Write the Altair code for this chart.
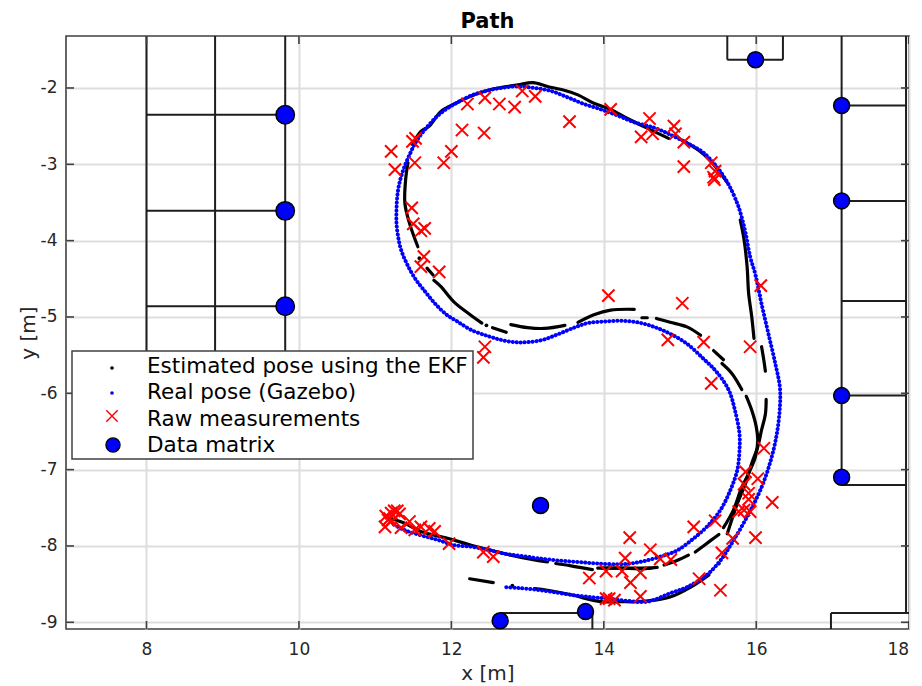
import altair as alt
import pandas as pd

FONT = "DejaVu Sans"
X_DOMAIN = [6.944, 18.004]
Y_DOMAIN = [-9.088, -1.319]
x_ticks = [8, 10, 12, 14, 16, 18]
y_ticks = [-2, -3, -4, -5, -6, -7, -8, -9]

# Real pose (Gazebo)
blue_x = [12.72,12.87,13.09,13.31,13.57,13.83,14.05,14.31,14.57,14.87,15.09,15.35,15.53,15.70,15.90,16.07,16.19,16.27,16.31,16.31,16.25,16.16,16.07,15.99,15.92,15.86,15.80,
          15.75,15.64,15.51,15.31,15.09,14.87,14.66,14.40,14.18,13.96,13.74,13.52,13.31,13.09,12.85,12.65,12.45,12.26,12.06,11.86,11.69,11.54,11.44,11.37,11.32,11.29,11.28,11.28,11.30,11.34,11.41,11.52,11.65,11.80,11.95,12.08,12.26,12.48,12.65,12.83,13.00,13.20,13.39,13.61,13.79,14.00,14.22,14.44,14.66,14.87,15.09,15.31,15.48,15.64,15.72,15.78,15.78,15.75,15.66,15.53,15.35,15.18,14.96,14.74,14.52,14.35,14.18,13.92,13.66,13.39,13.13,12.91,12.69,12.48,12.26,12.04,11.82,11.60,11.38,11.21]
blue_y = [-8.54,-8.55,-8.57,-8.60,-8.64,-8.67,-8.69,-8.72,-8.73,-8.62,-8.54,-8.38,-8.19,-7.93,-7.58,-7.23,-6.88,-6.53,-6.18,-5.92,-5.61,-5.22,-4.83,-4.45,-4.21,-3.90,-3.66,
          -3.51,-3.27,-3.07,-2.85,-2.72,-2.61,-2.52,-2.45,-2.36,-2.28,-2.21,-2.12,-2.04,-2.00,-1.98,-2.00,-2.04,-2.10,-2.20,-2.33,-2.50,-2.70,-2.90,-3.07,-3.24,-3.42,-3.59,-3.77,-3.94,-4.12,-4.29,-4.49,-4.66,-4.84,-4.98,-5.06,-5.17,-5.25,-5.30,-5.33,-5.33,-5.30,-5.23,-5.14,-5.08,-5.06,-5.05,-5.07,-5.13,-5.22,-5.35,-5.55,-5.72,-5.96,-6.22,-6.53,-6.75,-7.01,-7.27,-7.53,-7.75,-7.90,-8.06,-8.14,-8.20,-8.23,-8.24,-8.23,-8.21,-8.19,-8.16,-8.13,-8.10,-8.05,-8.01,-7.99,-7.92,-7.86,-7.79,-7.70]

# Estimated pose using the EKF: runs of the trace with breaks between them
black_runs_x = [
    [11.49,11.60,11.71,11.86,12.06,12.30,12.56,12.87,13.07,13.26,13.48,13.66,13.87,14.09,14.31,14.66,14.85],
    [15.00,15.16,15.31,15.48,15.62],
    [15.79,15.84,15.88,15.90,15.94,15.97],
    [16.07,16.10,16.12],
    [16.13,16.12,16.07,16.02,15.94,15.86,15.75,15.62],
    [15.38,15.14,14.87,14.66,14.44,14.22,13.96,13.57,13.26,13.09],
    [12.55,12.24],
    [14.62,14.27,13.92],
    [13.85,13.57,13.37],
    [13.26,12.87,12.26,11.95,11.60,11.38,11.21],
    [15.27,15.09,14.87,14.69],
    [15.57,15.44],
    [15.55,15.68,15.81],
    [15.87,15.94,16.00,16.02,15.99,15.90,15.81,15.70,15.57],
    [15.51,15.40,15.20],
    [15.11,14.96,14.79],
    [14.70,14.48,14.22,13.98],
    [11.43,11.40,11.39,11.45,11.56],
    [11.68,11.76],
    [11.77,11.86,12.04,12.26,12.40],
    [12.54,12.72],
    [12.78,13.00,13.22,13.49],
    [13.66,13.87,14.09,14.40],
    [14.50,14.57],
]
black_runs_y = [
    [-2.74,-2.57,-2.50,-2.31,-2.20,-2.09,-2.01,-1.96,-1.93,-1.98,-2.03,-2.09,-2.20,-2.28,-2.40,-2.57,-2.66],
    [-2.67,-2.76,-2.87,-3.05,-3.24],
    [-3.73,-3.99,-4.34,-4.69,-4.99,-5.28],
    [-5.39,-5.57,-5.71],
    [-6.08,-6.27,-6.48,-6.70,-6.92,-7.18,-7.45,-7.84],
    [-8.38,-8.54,-8.67,-8.71,-8.73,-8.73,-8.73,-8.64,-8.58,-8.56],
    [-8.48,-8.43],
    [-8.29,-8.29,-8.29],
    [-8.31,-8.26,-8.23],
    [-8.21,-8.14,-7.99,-7.90,-7.81,-7.70,-7.64],
    [-5.24,-5.13,-5.07,-5.02],
    [-5.56,-5.44],
    [-5.61,-5.74,-5.95],
    [-6.04,-6.22,-6.44,-6.62,-6.83,-7.05,-7.23,-7.53,-7.76],
    [-7.85,-7.93,-8.08],
    [-8.12,-8.19,-8.25],
    [-8.28,-8.30,-8.29,-8.29],
    [-2.98,-3.20,-3.51,-3.77,-4.08],
    [-4.36,-4.45],
    [-4.52,-4.60,-4.81,-4.98,-5.08],
    [-5.14,-5.20],
    [-5.10,-5.14,-5.15,-5.11],
    [-5.07,-4.97,-4.91,-4.90],
    [-5.01,-5.01],
]
black_dot_x = [11.58, 12.46, 12.80, 15.51]
black_dot_y = [-4.23, -5.11, -8.52, -8.23]

# Raw measurements
raw_x = [11.21,11.26,11.49,11.53,11.52,11.90,12.00,12.14,12.21,12.44,12.43,12.63,12.83,12.93,13.10,13.55,14.09,14.60,14.49,14.64,
         11.48,11.50,11.60,11.65,11.64,11.60,11.84,14.06,12.44,12.42,14.92,14.94,15.05,15.05,15.41,15.46,15.44,15.45,16.06,15.03,14.84,15.31,15.92,
         15.41,16.10,15.86,16.02,15.84,15.90,15.90,16.21,15.77,15.84,15.92,15.46,15.18,15.69,15.99,15.55,14.61,14.74,14.88,15.25,15.53,
         11.13,11.14,11.19,11.21,11.25,11.29,11.21,11.17,11.32,11.34,11.45,11.52,11.60,11.71,11.78,11.97,12.42,12.55,
         14.34,14.28,14.03,13.81,14.24,14.48,14.35,14.48,14.03,14.14,14.07]
raw_y = [-2.83,-3.07,-2.70,-2.66,-2.98,-2.98,-2.83,-2.55,-2.21,-2.13,-2.59,-2.21,-2.25,-2.04,-2.11,-2.44,-2.28,-2.40,-2.64,-2.60,
         -3.57,-3.78,-3.87,-3.84,-4.21,-4.34,-4.41,-4.72,-5.39,-5.53,-2.50,-2.60,-2.71,-3.03,-2.98,-3.09,-3.17,-3.20,-4.59,-4.82,-5.30,-5.33,-5.39,
         -5.87,-6.72,-7.03,-7.12,-7.19,-7.31,-7.39,-7.43,-7.55,-7.53,-7.55,-7.67,-7.75,-7.90,-7.89,-8.09,-8.05,-8.17,-8.18,-8.43,-8.58,
         -7.75,-7.61,-7.64,-7.57,-7.54,-7.54,-7.68,-7.66,-7.58,-7.76,-7.68,-7.79,-7.75,-7.77,-7.81,-7.97,-8.08,-8.14,
         -7.89,-8.16,-8.33,-8.42,-8.33,-8.35,-8.48,-8.66,-8.69,-8.71,-8.69]

# Data matrices
dm_big_x = [9.82, 9.82, 9.82]
dm_big_y = [-2.35, -3.61, -4.86]
dm_x = [15.99, 17.12, 17.12, 17.12, 17.12, 13.17, 12.64, 13.76]
dm_y = [-1.63, -2.23, -3.48, -6.03, -7.10, -7.47, -8.98, -8.86]

# Walls of the map
wall_x1 = [8.0, 8.9, 9.82, 8.0, 8.0, 8.0, 15.62, 15.62, 16.35, 17.12, 17.12, 17.12, 17.12, 17.12, 17.12, 17.965, 16.98, 16.98, 12.64, 13.85, 12.64]
wall_y1 = [-1.319, -1.319, -1.319, -2.35, -3.61, -4.86, -1.319, -1.63, -1.63, -1.319, -2.23, -3.48, -4.79, -6.03, -7.20, -1.319, -9.088, -8.88, -8.88, -8.88, -8.88]
wall_x2 = [8.0, 8.9, 9.82, 9.82, 9.82, 9.82, 15.62, 16.35, 16.35, 17.12, 17.965, 17.965, 17.965, 17.965, 17.965, 17.965, 16.98, 18.004, 13.85, 13.85, 12.64]
wall_y2 = [-5.6, -5.6, -5.6, -2.35, -3.61, -4.86, -1.63, -1.63, -1.319, -7.20, -2.23, -3.48, -4.79, -6.03, -7.20, -8.88, -8.88, -8.88, -8.88, -9.088, -8.98]

legend_labels = ["Estimated pose using the EKF", "Real pose (Gazebo)", "Raw measurements", "Data matrix"]
X_MARK = "M-1,-1L1,1M-1,1L1,-1"

x_scale = alt.Scale(domain=X_DOMAIN, nice=False, zero=False)
y_scale = alt.Scale(domain=Y_DOMAIN, nice=False, zero=False)
TEXT = "#262626"
PLAIN_NUMBER = "'' + datum.value"

x_enc = alt.X("x:Q", scale=x_scale, title="x [m]",
              axis=alt.Axis(values=x_ticks, grid=True, gridColor="#dedede", gridWidth=2, ticks=False, domain=False,
                            labelFont=FONT, labelFontSize=17, labelColor=TEXT, labelPadding=12, labelExpr=PLAIN_NUMBER,
                            titleFont=FONT, titleFontSize=20, titleFontWeight="normal", titleColor=TEXT,
                            titleBaseline="middle", titleY=44))
y_enc = alt.Y("y:Q", scale=y_scale, title="y [m]",
              axis=alt.Axis(values=y_ticks, grid=True, gridColor="#dedede", gridWidth=2, ticks=False, domain=False,
                            labelFont=FONT, labelFontSize=17, labelColor=TEXT, labelPadding=9, labelExpr=PLAIN_NUMBER,
                            titleFont=FONT, titleFontSize=20, titleFontWeight="normal", titleColor=TEXT,
                            titleBaseline="middle", titleX=-38))

walls = alt.Chart(pd.DataFrame({"x": wall_x1, "y": wall_y1, "x2": wall_x2, "y2": wall_y2})).mark_rule(
    color="#1e1e1e", strokeWidth=2, clip=True
).encode(x=x_enc, y=y_enc, x2="x2:Q", y2="y2:Q")

tick_len_x = 0.105
tick_len_y = 0.105
tx = pd.DataFrame({"x": x_ticks})
ty = pd.DataFrame({"y": y_ticks})
tick_style = dict(color="#404040", strokeWidth=1.6, clip=True)
ticks = [
    alt.Chart(tx.assign(y=Y_DOMAIN[0], y2=Y_DOMAIN[0] + tick_len_y)).mark_rule(**tick_style).encode(x=x_enc, y=y_enc, y2="y2:Q"),
    alt.Chart(tx.assign(y=Y_DOMAIN[1], y2=Y_DOMAIN[1] - tick_len_y)).mark_rule(**tick_style).encode(x=x_enc, y=y_enc, y2="y2:Q"),
    alt.Chart(ty.assign(x=X_DOMAIN[0], x2=X_DOMAIN[0] + tick_len_x)).mark_rule(**tick_style).encode(y=y_enc, x=x_enc, x2="x2:Q"),
    alt.Chart(ty.assign(x=X_DOMAIN[1], x2=X_DOMAIN[1] - tick_len_x)).mark_rule(**tick_style).encode(y=y_enc, x=x_enc, x2="x2:Q"),
]

rows = []
for r, (xs, ys) in enumerate(zip(black_runs_x, black_runs_y)):
    for i, (a, b) in enumerate(zip(xs, ys)):
        rows.append({"run": r, "i": i, "x": a, "y": b})
black = alt.Chart(pd.DataFrame(rows)).mark_line(
    color="black", strokeWidth=3.2, strokeCap="round", interpolate="catmull-rom", clip=True
).encode(x=x_enc, y=y_enc, detail="run:N", order="i:Q")
black_dots = alt.Chart(pd.DataFrame({"x": black_dot_x, "y": black_dot_y})).mark_circle(
    color="black", size=14, opacity=1, clip=True
).encode(x=x_enc, y=y_enc)

blue_df = pd.DataFrame({"x": blue_x, "y": blue_y, "i": range(len(blue_x))})
blue = alt.Chart(blue_df).mark_line(
    color="#0000ff", strokeWidth=4, strokeCap="round", strokeDash=[0.1, 3.9], interpolate="catmull-rom", clip=True
).encode(x=x_enc, y=y_enc, order="i:Q")

raw = alt.Chart(pd.DataFrame({"x": raw_x, "y": raw_y})).mark_point(
    shape=X_MARK, size=150, color="#ff0000", filled=False, strokeWidth=2, opacity=1, clip=True
).encode(x=x_enc, y=y_enc)

dm_big = alt.Chart(pd.DataFrame({"x": dm_big_x, "y": dm_big_y})).mark_point(
    shape="circle", size=340, fill="#0000ff", stroke="black", strokeWidth=1.5, opacity=1, filled=True
).encode(x=x_enc, y=y_enc)
dm = alt.Chart(pd.DataFrame({"x": dm_x, "y": dm_y})).mark_point(
    shape="circle", size=255, fill="#0000ff", stroke="black", strokeWidth=1.5, opacity=1, filled=True
).encode(x=x_enc, y=y_enc)

box = alt.Chart(pd.DataFrame({"a": [0]})).mark_rect(fill="white", stroke="#404040", strokeWidth=1.5).encode(
    x=alt.value(6), x2=alt.value(407), y=alt.value(315), y2=alt.value(423))

def legend_text(label, ypx):
    return alt.Chart(pd.DataFrame({"label": [label]})).mark_text(
        font=FONT, fontSize=21.5, align="left", baseline="middle", color="black"
    ).encode(text="label:N", x=alt.value(81), y=alt.value(ypx))

legend_rows = [legend_text(l, y) for l, y in zip(legend_labels, [331, 357, 384, 410])]
one = pd.DataFrame({"a": [0]})
legend_syms = [
    alt.Chart(one).mark_circle(color="black", size=13, opacity=1).encode(x=alt.value(46), y=alt.value(332)),
    alt.Chart(one).mark_circle(color="#0000ff", size=13, opacity=1).encode(x=alt.value(46), y=alt.value(357)),
    alt.Chart(one).mark_point(shape=X_MARK, size=130, color="#ff0000", filled=False, strokeWidth=1.4, opacity=1).encode(x=alt.value(46), y=alt.value(380)),
    alt.Chart(one).mark_point(shape="circle", size=200, fill="#0000ff", stroke="black", strokeWidth=1.3, opacity=1, filled=True).encode(x=alt.value(47), y=alt.value(409)),
]

chart = alt.layer(
    walls, *ticks, black, black_dots, blue, box, *legend_rows, *legend_syms, raw, dm_big, dm
).properties(
    width=843, height=593,
    title=alt.TitleParams("Path", font=FONT, fontSize=21, fontWeight="bold", color="black", offset=4),
    padding={"left": 58, "top": 28, "right": 5, "bottom": 57},
    autosize=alt.AutoSizeParams(type="none"),
    background="white",
).configure_view(stroke="#404040", strokeWidth=1.6)

chart.save("out.html", embed_options={"renderer": "svg", "actions": False})
